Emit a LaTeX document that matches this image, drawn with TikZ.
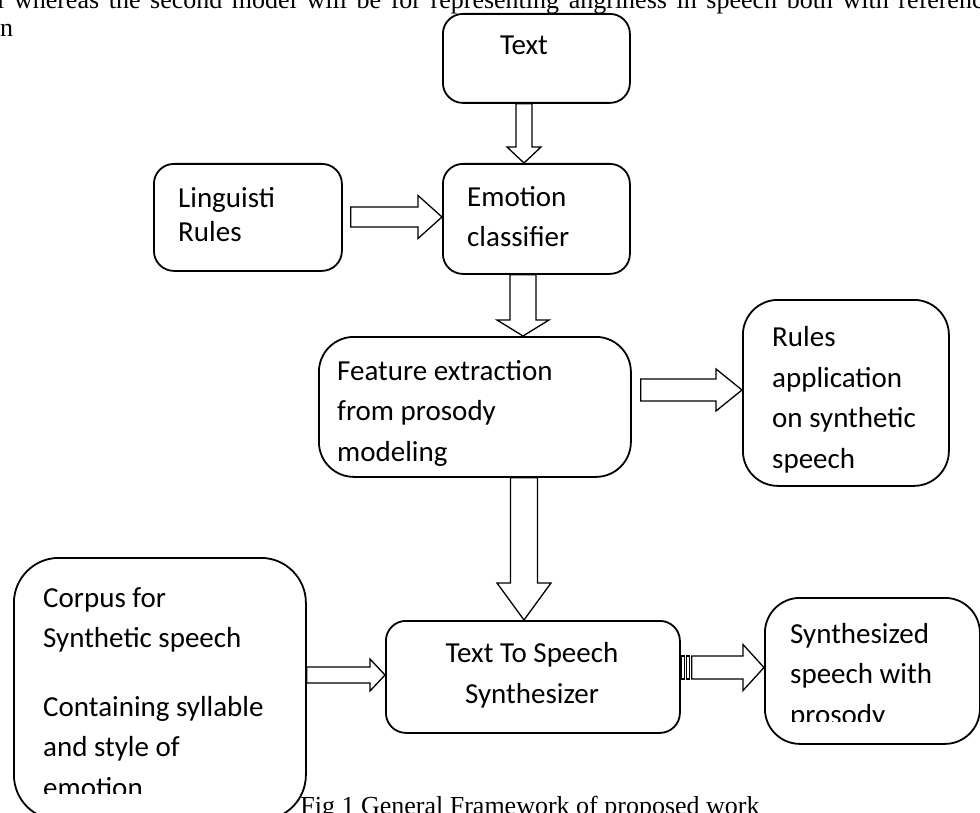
\documentclass[tikz,border=0pt]{standalone}
\usepackage{fontspec}
\setmainfont{Carlito}
\newfontfamily\capfont{Liberation Serif}
\usetikzlibrary{calc}

\tikzset{
  box/.style={draw, line width=1.8pt, fill=white, inner sep=0pt, anchor=north west},
  txt/.style={inner sep=0pt, font=\fontsize{29}{40.5}\selectfont, align=left, anchor=base west},
  blockarrow/.style={draw, line width=1.3pt, fill=white, line join=miter},
  prose/.style={inner sep=0pt, font=\capfont\fontsize{26}{30}\selectfont, anchor=base west}
}

% hollow block arrow pointing down: from, to, x centre, half shaft, half head, head length, gap
\newcommand\blockdown[7]{%
  \draw[blockarrow] let \p1=(#1.south), \p2=(#2.north) in
    (#3pt-#4pt,\y1-#7pt) -- (#3pt-#4pt,\y2+#6pt) -- (#3pt-#5pt,\y2+#6pt) -- (#3pt,\y2)
    -- (#3pt+#5pt,\y2+#6pt) -- (#3pt+#4pt,\y2+#6pt) -- (#3pt+#4pt,\y1-#7pt) -- cycle;}

% hollow block arrow pointing right: from, to, y centre, half shaft, half head, head length, gap
\newcommand\blockright[7]{%
  \draw[blockarrow] let \p1=(#1.east), \p2=(#2.west) in
    (\x1+#7pt,-#3pt+#4pt) -- (\x2-#6pt,-#3pt+#4pt) -- (\x2-#6pt,-#3pt+#5pt) -- (\x2,-#3pt)
    -- (\x2-#6pt,-#3pt-#5pt) -- (\x2-#6pt,-#3pt-#4pt) -- (\x1+#7pt,-#3pt-#4pt) -- cycle;}

\begin{document}
\begin{tikzpicture}[x=1pt, y=-1pt]
  \useasboundingbox (0,0) rectangle (980,813);
  \clip (0,0) rectangle (980,813);

  % running text of the page above the figure
  \node[prose] (line1) at (-3,9) {\spaceskip=9.6pt\relax l whereas the second model will be for representing angriness in speech both with reference};
  \node[prose] (line2) at (0,37) {n};

  % boxes
  \node[box, rounded corners=20pt, minimum width=187pt, minimum height=89pt]  (textbox) at (442,13) {};
  \node[box, rounded corners=20pt, minimum width=187pt, minimum height=110pt] (emo)     at (442,163) {};
  \node[box, rounded corners=20pt, minimum width=188pt, minimum height=107pt] (ling)    at (153,163) {};
  \node[box, rounded corners=35pt, minimum width=312pt, minimum height=140pt] (feat)    at (318,336) {};
  \node[box, rounded corners=35pt, minimum width=206pt, minimum height=186pt] (rules)   at (742,299) {};
  \node[box, rounded corners=45pt, minimum width=292pt, minimum height=262pt] (corpus)  at (13,557) {};
  \node[box, rounded corners=20pt, minimum width=294pt, minimum height=112pt] (tts)     at (385,620) {};
  \node[box, rounded corners=35pt, minimum width=215pt, minimum height=146pt] (synth)   at (764,597) {};

  % box texts (each node sits on the baseline of its last line)
  \node[txt, anchor=base] (textlbl) at (524,55) {Text};
  \node[txt] (emolbl) at (467,247) {Emotion\\classifier};
  \node[txt] (linglbl) at (178,242) {Linguisti\\[-5.5pt]Rules};
  \node[txt] (featlbl) at (337,461) {Feature extraction\\from prosody\\modeling};
  \node[txt] (ruleslbl) at (772,468) {Rules\\application\\on synthetic\\speech};
  \begin{scope}
    \clip (13,557) rectangle (305,793);
    \node[txt] (corpuslbl) at (43,797) {Corpus for\\Synthetic speech\\[28pt]Containing syllable\\and style of\\emotion};
  \end{scope}
  \node[txt, align=center, anchor=base] (ttslbl) at (532,703) {Text To Speech\\Synthesizer};
  \begin{scope}
    \clip (764,597) rectangle (979,721);
    \node[txt] (synthlbl) at (790,724) {Synthesized\\speech with\\prosody};
  \end{scope}

  % block arrows
  \blockdown{textbox}{emo}{524}{8}{17}{16}{0}
  \blockright{ling}{emo}{217}{10}{21.5}{24}{8}
  \blockdown{emo}{feat}{523}{13}{26}{16}{0}
  \blockright{feat}{rules}{390}{11}{21}{26}{9}
  \blockdown{feat}{tts}{524}{13.5}{27}{37}{0}
  \blockright{corpus}{tts}{675}{8}{16}{15}{0}
  \draw[blockarrow] let \p1=(tts.east) in
    (\x1+1pt,-656pt) rectangle (\x1+4pt,-679pt)
    (\x1+6pt,-656pt) rectangle (\x1+9pt,-679pt);
  \blockright{tts}{synth}{667.5}{11.5}{23}{21}{11}

  % caption
  \node[prose, anchor=base] (caption) at (530,814) {Fig 1 General Framework of proposed work};
\end{tikzpicture}
\end{document}
